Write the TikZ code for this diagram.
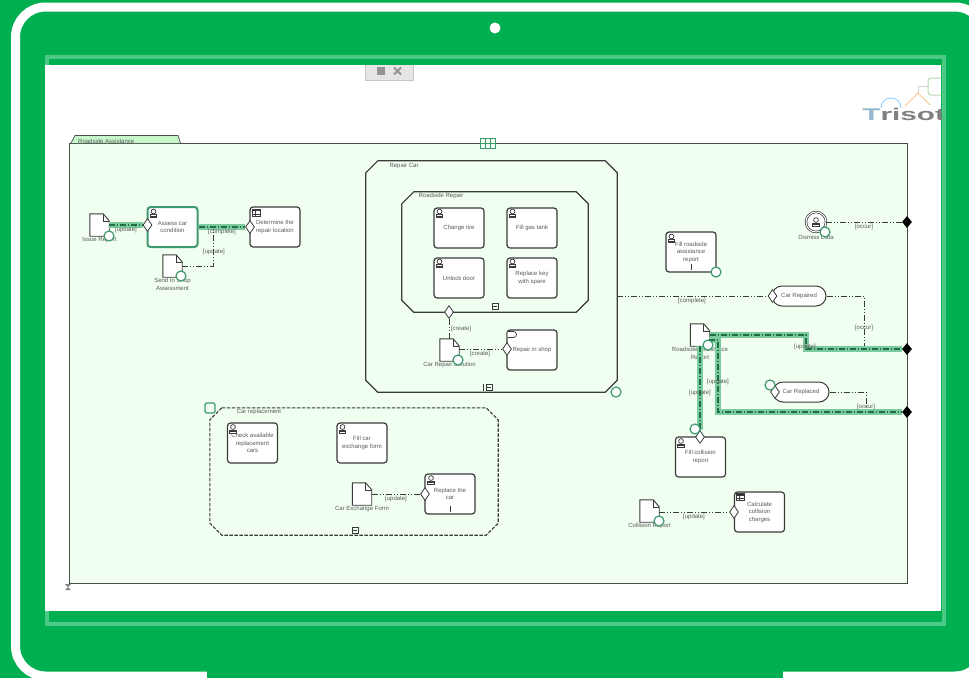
\documentclass[tikz,border=0pt]{standalone}
\usepackage{fontspec}
\setmainfont{Liberation Sans}
\usetikzlibrary{shapes.geometric}
\definecolor{casegreen}{HTML}{00AF50}
\definecolor{rimgreen}{HTML}{4CC985}
\definecolor{poolfill}{HTML}{F0FFF0}
\definecolor{tabfill}{HTML}{C6F7CB}
\definecolor{markgreen}{HTML}{3E9A6E}
\definecolor{bandgreen}{HTML}{7CCB9E}
\definecolor{flowgreen}{HTML}{1F6E45}
\definecolor{inkgray}{HTML}{3A3A3A}
\definecolor{textgray}{HTML}{5A5A5A}
\tikzset{
  txt/.style={font=\fontsize{6}{7.5}\selectfont,text=textgray,align=center},
  task/.style={draw=inkgray,line width=1.2,rounded corners=3,fill=white,minimum width=50,minimum height=40,txt},
  hottask/.style={task,draw=markgreen,line width=2},
  pill/.style={draw=inkgray,line width=1,rounded corners=10,fill=white,minimum height=20,txt},
  gate/.style={diamond,draw=inkgray,line width=.8,fill=white,aspect=.7,minimum width=9,minimum height=13},
  stopper/.style={diamond,fill=black,aspect=.8,minimum width=10,minimum height=12},
  marker/.style={circle,draw=markgreen,line width=1.2,fill=white,minimum size=10},
  chamline/.style={draw=inkgray,line width=1.2},
  flow/.style={draw=inkgray,line width=.8,dash pattern=on 6pt off 2pt on 1pt off 2pt on 1pt off 2pt},
  hotflow/.style={draw=flowgreen,line width=1.2,dash pattern=on 6pt off 2pt on 1pt off 2pt,preaction={draw=bandgreen,line width=6,solid}},
  docbox/.style={minimum width=19,minimum height=22},
  docline/.style={draw=inkgray,line width=.9,fill=white},
  usermark/.pic={
    \draw [inkgray,line width=.7,fill=white] (-3.2,1) rectangle (3.2,4);
    \draw [inkgray,line width=.7,fill=white] (0,-2) circle (2.4);
    \draw [inkgray,line width=.7] (-3.2,2.5) -- (3.2,2.5);
  },
  tablemark/.pic={
    \draw [inkgray,line width=.6,fill=white] (-4,-3.5) rectangle (4,3.5);
    \fill [inkgray] (-4,-3.5) rectangle (4,-1.2);
    \draw [inkgray,line width=.4] (-1,-1.2) -- (-1,3.5) (-4,1.2) -- (4,1.2);
  },
  tagmark/.pic={
    \draw [inkgray,line width=.7,fill=white] (-5,-3) -- (1,-3) arc (-90:90:3) -- (-5,3);
  },
  foldmark/.pic={
    \draw [inkgray,line width=.6] (-3,-3) rectangle (3,3);
    \draw [inkgray,line width=.6] (-2,0) -- (2,0);
  },
}
\newcommand{\docshape}[3]{
  \draw (#2) node [docbox] (#1) {};
  \draw [docline] (#1.north west) -- ([xshift=-6]#1.north east) -- ([yshift=-7]#1.north east) -- (#1.south east) -- (#1.south west) -- cycle;
  \draw [inkgray,line width=.6] ([xshift=-6]#1.north east) -- ([xshift=-6,yshift=-7]#1.north east) -- ([yshift=-7]#1.north east);
  \node [txt,anchor=north] (#1label) at ([yshift=-1]#1.south) {#3};
}
\newcommand{\chambox}[5]{
  \draw (#2) node [minimum width=#3,minimum height=#4] (#1) {};
  \draw [chamline,#5] ([xshift=12]#1.north west) -- ([xshift=-12]#1.north east) -- ([yshift=-12]#1.north east) -- ([yshift=12]#1.south east) -- ([xshift=-12]#1.south east) -- ([xshift=12]#1.south west) -- ([yshift=12]#1.south west) -- ([yshift=-12]#1.north west) -- cycle;
}
\begin{document}
\begin{tikzpicture}[x=1pt,y=-1pt]
\tikzstyle{every node}+=[inner sep=0pt]
\useasboundingbox (0,0) rectangle (969,678);
\clip (0,0) rectangle (969,678);
\fill [casegreen] (0,0) rectangle (969,678);
\draw [white,line width=9,rounded corners=30] (15.5,7) rectangle (985,676);
\fill [casegreen] (207,669) rectangle (783,678);
\draw [rimgreen,line width=4] (46.5,57) rectangle (944,623.5);
\fill [white] (45,65) rectangle (941,611);
\fill [white] (495,28) circle (5.5);

\fill [gray!20] (365,65) rectangle (413,80);
\draw [gray!45,line width=.6] (365,65) -- (365,80) -- (413,80) -- (413,65);
\fill [gray!85] (377,67) rectangle (385,75);
\draw [gray!85,line width=1.8] (394,67.5) -- (401,74.5) (394,74.5) -- (401,67.5);

\begin{scope}
\clip (850,70) rectangle (941,130);
\draw [blue!45!cyan!40,line width=1] (881,108) arc (180:360:10);
\draw [orange!45,line width=1] (905,106) -- (918,93) -- (930,105);
\draw [gray!35,line width=.8] (918,93) -- (918,86) -- (928,86);
\draw [green!50!black!30,line width=1,rounded corners=3] (928,78) rectangle (950,95);
\draw (862,114.5) node [anchor=west,xscale=1.75] (logo) {\fontsize{17}{17}\selectfont\bfseries\textcolor{blue!40!cyan!35!gray!60}{T}\textcolor{gray}{risote}};
\end{scope}

\draw (488,363) node [draw=gray!60!black,line width=1,fill=poolfill,minimum width=838,minimum height=440] (assist) {};
\draw [gray!60!black,line width=.7,fill=tabfill] (71,143) -- (75,135.5) -- (178,135.5) -- (180.5,143);
\draw (78,141) node [txt,anchor=west] (assisttitle) {Roadside Assistance};
\draw [markgreen,line width=.7,fill=poolfill] (480,138) rectangle (495,148);
\draw [markgreen,line width=.5] (485,138) -- (485,148) (490,138) -- (490,148) (480,143) -- (495,143);
\fill [gray] (65,584) -- (71,584) -- (68,587) -- cycle;
\fill [gray] (65,590) -- (71,590) -- (68,587) -- cycle;

\chambox{repaircar}{491.5,276.5}{251}{231}{}
\draw (404,166) node [txt] (repairtitle) {Repair Car};
\chambox{roadrepair}{495,252}{186}{120}{}
\draw (441,196) node [txt] (roadtitle) {Roadside Repair};
\pic at (495,306.5) {foldmark};
\pic at (489,387.5) {foldmark};
\draw [inkgray,line width=.7] (483,384) -- (483,391);
\chambox{carrepl}{354,471.5}{288}{127}{line width=1.1,dash pattern=on 3.5pt off 1.5pt}
\draw (259,412) node [txt] (repltitle) {Car replacement};
\pic at (355,530) {foldmark};

\draw (172.5,227) node [hottask] (assess) {Assess car\\condition};
\draw (275,227) node [task] (determine) {Determine the\\repair location};
\draw (459,228) node [task] (changetire) {Change tire};
\draw (532,228) node [task] (fillgas) {Fill gas tank};
\draw (459,278) node [task] (unlock) {Unlock door};
\draw (532,278) node [task] (replacekey) {Replace key\\with spare};
\draw (532,350) node [task] (shop) {Repair in shop};
\draw (691,252) node [task] (fillroad) {Fill roadside\\assistance\\report};
\draw (700.5,457) node [task] (fillcoll) {Fill collision\\report};
\draw (759.5,512) node [task] (calc) {Calculate\\collision\\charges};
\draw (252.5,443) node [task] (check) {Check available\\replacement\\cars};
\draw (362,443) node [task] (fillform) {Fill car\\exchange form};
\draw (450,494) node [task] (replacecar) {Replace the\\car};
\draw (799,296) node [pill,minimum width=54] (repaired) {Car Repaired};
\draw (801,392) node [pill,minimum width=56] (replaced) {Car Replaced};
\draw (816,222) node [circle,draw=inkgray,line width=.7,double,double distance=1,fill=white,minimum size=20] (dismiss) {};
\draw (816,237) node [txt] (dismisstext) {Dismiss Data};

\docshape{issue}{99.5,225}{Issue Report}
\docshape{sendshop}{172.5,266}{Send to Shop\\Assessment}
\docshape{solution}{449.5,350}{Car Repair Solution}
\docshape{roadreport}{700,335}{Roadside Assistance\\Report}
\docshape{collreport}{649.5,511}{Collision Report}
\docshape{exchange}{362,494}{Car Exchange Form}

\draw (147.5,225) node [gate] (gateassess) {};
\draw (250,227) node [gate] (gatedeterm) {};
\draw (449,312) node [gate] (gaterepair) {};
\draw (507,349) node [gate] (gateshop) {};
\draw (700,437) node [gate] (gatecoll) {};
\draw (734,512) node [gate] (gatecalc) {};
\draw (425,494) node [gate] (gatereplace) {};
\draw (772.5,296) node [gate] (gaterepaired) {};
\draw (775,392) node [gate] (gatereplaced) {};
\draw (907,222) node [stopper] (stopa) {};
\draw (907,349) node [stopper] (stopb) {};
\draw (907,412) node [stopper] (stopc) {};

\draw [hotflow] (issue.east |- gateassess.west) -- (gateassess.west);
\draw [hotflow] (assess.east |- gatedeterm.west) -- (gatedeterm.west);
\draw [flow] (sendshop.east) -- (213,266) -- (213,228);
\draw [flow] (gaterepair.south) -- (gaterepair.south |- solution.north);
\draw [flow] (solution.east |- gateshop.west) -- (gateshop.west);
\draw [flow] (repaircar.east |- gaterepaired.west) -- (gaterepaired.west);
\draw [flow] (repaired.east) -| (864,349);
\draw [flow] (dismiss.east) -- (stopa.west);
\draw [flow] (replaced.east) -| (866,412);
\draw [hotflow] (roadreport.east) -- (806,335) -- (806,349) -- (stopb.west);
\draw [hotflow] (709,340) -- (718,340) -- (718,412) -- (stopc.west);
\draw [hotflow] (roadreport.south) -- (gatecoll.north);
\draw [flow] (collreport.east |- gatecalc.west) -- (gatecalc.west);
\draw [flow] (exchange.east) -- (gatereplace.west);

\draw (126,230) node [txt] (lupdatea) {[update]};
\draw (222,232) node [txt] (lcomplete) {[complete]};
\draw (214,251.5) node [txt] (lupdateb) {[update]};
\draw (461,328.5) node [txt] (lcreatea) {[create]};
\draw (480,354) node [txt] (lcreateb) {[create]};
\draw (692,301) node [txt] (lcompleteb) {[complete]};
\draw (864,227) node [txt] (loccura) {[occur]};
\draw (864,328) node [txt] (loccurb) {[occur]};
\draw (866,407) node [txt] (loccurc) {[occur]};
\draw (805,346.5) node [txt] (lupdatec) {[update]};
\draw (718,381.5) node [txt] (lupdated) {[update]};
\draw (700,392.5) node [txt] (lupdatee) {[update]};
\draw (694,516.5) node [txt] (lupdatef) {[update]};
\draw (396,499) node [txt] (lupdateg) {[update]};

\pic at (153.5,213.5) {usermark};
\pic at (256,212.5) {tablemark};
\pic at (439.5,213.5) {usermark};
\pic at (512.5,213.5) {usermark};
\pic at (439.5,263.5) {usermark};
\pic at (512.5,263.5) {usermark};
\pic at (512.5,334.5) {tagmark};
\pic at (671.5,238.5) {usermark};
\pic at (681,443) {usermark};
\pic at (740,497) {tablemark};
\pic at (233,429) {usermark};
\pic at (342.5,429) {usermark};
\pic at (431,480) {usermark};
\pic at (816,222) {usermark};
\draw [inkgray,line width=.8] (691,264) -- (691,270);
\draw [inkgray,line width=.8] (450,506) -- (450,512);

\draw (109,236) node [marker] (markissue) {};
\draw (181,276) node [marker] (marksend) {};
\draw (458,360) node [marker] (marksolution) {};
\draw (616,392) node [marker] (markrepair) {};
\draw (825,232) node [marker] (markdismiss) {};
\draw (716,272) node [marker] (markfill) {};
\draw (708,345) node [marker] (markreport) {};
\draw (770,385) node [marker] (markreplaced) {};
\draw (695,429) node [marker] (markcoll) {};
\draw (659,521) node [marker] (markcollrep) {};
\draw (210,408) node [draw=markgreen,line width=1.2,rounded corners=1.5,fill=poolfill,minimum size=10] (markrepl) {};
\end{tikzpicture}
\end{document}
